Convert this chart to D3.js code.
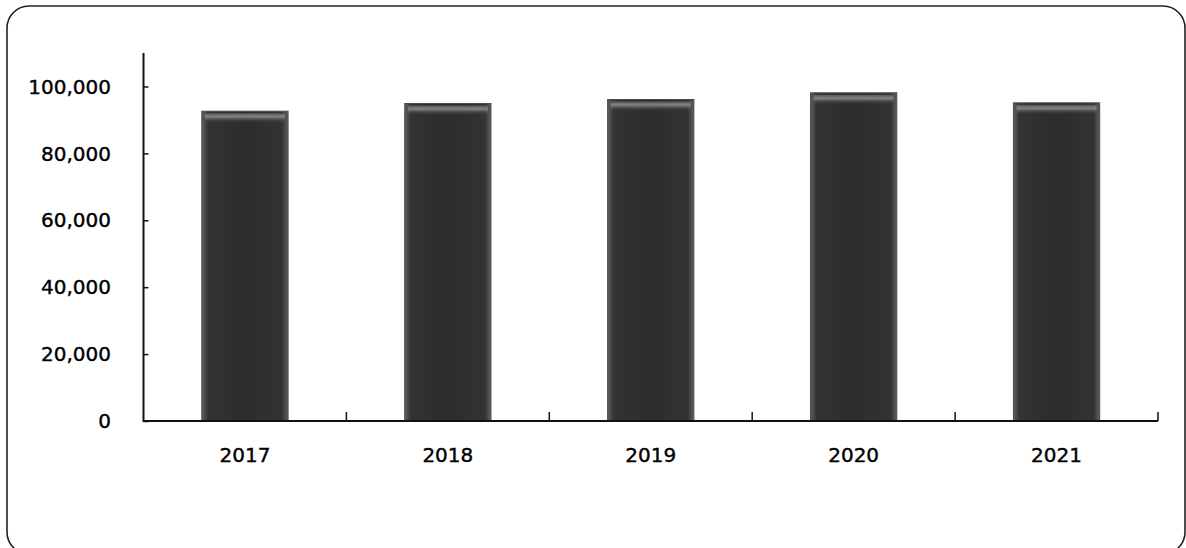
<!DOCTYPE html>
<html>
<head>
<meta charset="utf-8">
<script src="https://cdn.jsdelivr.net/npm/d3@7"></script>
<style>
    html, body { margin: 0; padding: 0; background: #fff; }
    svg { display: block; }
</style>
</head>
<body>
<div id="chart"></div>
<script>
const years = ['2017', '2018', '2019', '2020', '2021'];
const values = [92600, 94900, 96100, 98100, 95100];
const yTicks = [0, 20000, 40000, 60000, 80000, 100000];

(function () {

    let
        width = 1186,
        height = 548,
        left = 143.5,
        right = 1158,
        base = 421,
        top = 53,
        font = '"DejaVu Sans", Verdana, sans-serif',

        svg = d3
        .select('#chart')
        .append('svg')
        .attr('width', width)
        .attr('height', height);

    // bar shading: lighter edges, dark body
    let defs = svg.append('defs');
    let grad = defs.append('linearGradient')
        .attr('id', 'barFill')
        .attr('x1', '0%').attr('x2', '100%')
        .attr('y1', '0%').attr('y2', '0%');
    [['0%', '#606060'], ['7%', '#333'], ['50%', '#2c2c2c'], ['93%', '#333'], ['100%', '#606060']]
        .forEach(s => grad.append('stop').attr('offset', s[0]).attr('stop-color', s[1]));

    let topGrad = defs.append('linearGradient')
        .attr('id', 'barTop')
        .attr('x1', '0%').attr('x2', '0%')
        .attr('y1', '0%').attr('y2', '100%');
    [['0%', '#555', 1], ['35%', '#8c8c8c', 0.9], ['100%', '#333', 0]]
        .forEach(s => topGrad.append('stop').attr('offset', s[0]).attr('stop-color', s[1]).attr('stop-opacity', s[2]));

    // rounded frame, running off the bottom/right of the picture
    svg.append('rect')
        .attr('x', 7)
        .attr('y', 6)
        .attr('width', 1178)
        .attr('height', 548)
        .attr('rx', 22)
        .style('fill', 'none')
        .style('stroke', '#222')
        .style('stroke-width', 1.6);

    let x = d3.scaleBand()
        .domain(years)
        .range([left, right])
        .paddingInner(0.575)
        .paddingOuter(0.2875);

    let y = d3.scaleLinear()
        .domain([0, 110000])
        .range([base, top]);

    // bars
    let bars = svg.append('g');
    bars.selectAll('rect.bar')
        .data(values)
        .join('rect')
        .attr('class', 'bar')
        .attr('x', (d, i) => x(years[i]))
        .attr('y', d => y(d))
        .attr('width', x.bandwidth())
        .attr('height', d => base - y(d))
        .style('fill', 'url(#barFill)')
        .style('stroke', '#4a4a4a')
        .style('stroke-width', 1);

    bars.selectAll('rect.cap')
        .data(values)
        .join('rect')
        .attr('class', 'cap')
        .attr('x', (d, i) => x(years[i]) + 3)
        .attr('y', d => y(d) + 2)
        .attr('width', x.bandwidth() - 6)
        .attr('height', 10)
        .style('fill', 'url(#barTop)');

    // y axis
    let yAxis = svg.append('g')
        .attr('transform', `translate(${left},0)`)
        .call(d3.axisRight(y).tickValues(yTicks).tickSize(5).tickFormat(''));
    yAxis.select('.domain').remove();
    yAxis.selectAll('.tick line').style('stroke', '#111').style('stroke-width', 1.5);

    svg.append('line')
        .attr('x1', left).attr('x2', left)
        .attr('y1', top).attr('y2', base + 1)
        .style('stroke', '#111')
        .style('stroke-width', 2);

    svg.append('g')
        .selectAll('text')
        .data(yTicks)
        .join('text')
        .attr('x', 111)
        .attr('y', d => y(d))
        .attr('dy', '0.36em')
        .attr('text-anchor', 'end')
        .style('font-family', font)
        .style('font-size', '20px')
        .style('fill', '#000')
        .style('stroke', '#000')
        .style('stroke-width', 0.4)
        .text(d => d3.format(',')(d));

    // x axis
    svg.append('line')
        .attr('x1', left).attr('x2', right)
        .attr('y1', base).attr('y2', base)
        .style('stroke', '#111')
        .style('stroke-width', 2);

    let bounds = d3.range(1, years.length + 1).map(i => left + i * x.step());
    svg.append('g')
        .selectAll('line')
        .data(bounds)
        .join('line')
        .attr('x1', d => d).attr('x2', d => d)
        .attr('y1', base).attr('y2', base - 9)
        .style('stroke', '#111')
        .style('stroke-width', 1.5);

    svg.append('g')
        .selectAll('text')
        .data(years)
        .join('text')
        .attr('x', d => x(d) + x.bandwidth() / 2)
        .attr('y', 462)
        .attr('text-anchor', 'middle')
        .style('font-family', font)
        .style('font-size', '20px')
        .style('fill', '#000')
        .style('stroke', '#000')
        .style('stroke-width', 0.4)
        .text(d => d);

})();
</script>
</body>
</html>
